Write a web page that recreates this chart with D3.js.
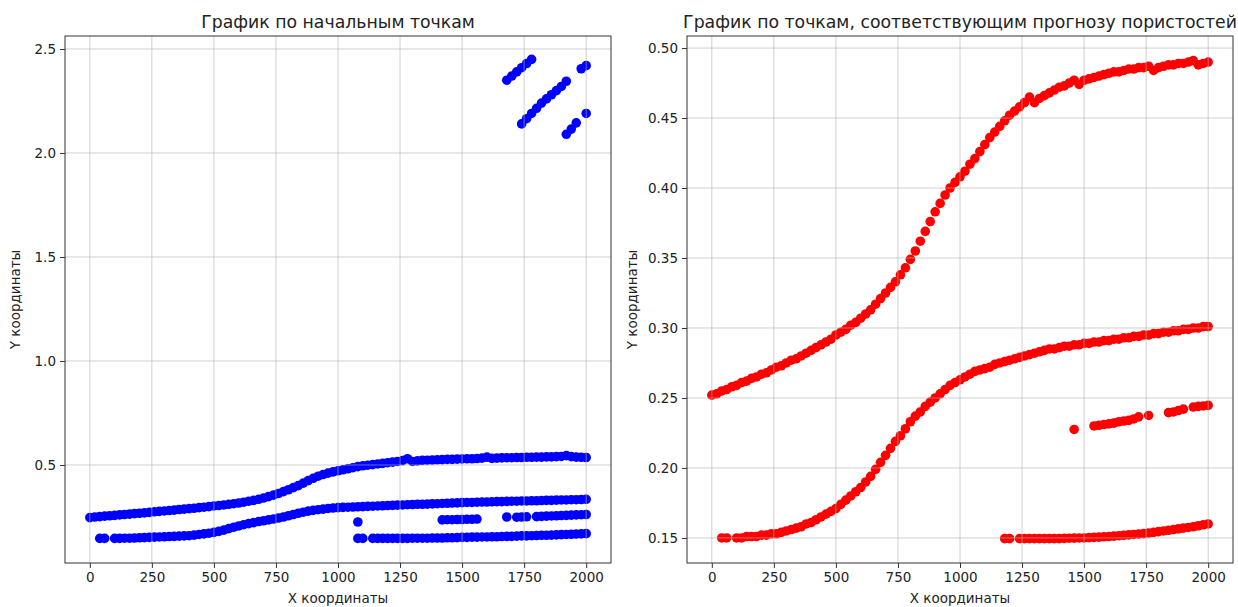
<!DOCTYPE html>
<html>
<head>
<meta charset="utf-8">
<script src="https://cdn.jsdelivr.net/npm/d3@7"></script>
<style>
  body { margin: 0; background: #fff; }
  svg text { font-family: "DejaVu Sans", sans-serif; fill: #222; }
</style>
</head>
<body>
<div id="chart"></div>
<script>
// x positions shared by the dense series (step of the sampling)
const xCoords = [
  0, 20, 40, 60, 80, 100, 120, 140, 160, 180,
  200, 220, 240, 260, 280, 300, 320, 340, 360, 380,
  400, 420, 440, 460, 480, 500, 520, 540, 560, 580,
  600, 620, 640, 660, 680, 700, 720, 740, 760, 780,
  800, 820, 840, 860, 880, 900, 920, 940, 960, 980,
  1000, 1020, 1040, 1060, 1080, 1100, 1120, 1140, 1160, 1180,
  1200, 1220, 1240, 1260, 1280, 1300, 1320, 1340, 1360, 1380,
  1400, 1420, 1440, 1460, 1480, 1500, 1520, 1540, 1560, 1580,
  1600, 1620, 1640, 1660, 1680, 1700, 1720, 1740, 1760, 1780,
  1800, 1820, 1840, 1860, 1880, 1900, 1920, 1940, 1960, 1980,
  2000
];

// ---- left chart: initial points ----
const leftUpper = [
  .247, .250, .252, .254, .256, .258, .260, .262, .264, .266,
  .268, .270, .272, .275, .277, .279, .281, .283, .286, .288,
  .290, .292, .295, .297, .300, .303, .305, .308, .311, .314,
  .317, .321, .326, .330, .335, .341, .348, .355, .363, .372,
  .381, .391, .401, .413, .425, .436, .446, .454, .461, .467,
  .472, .477, .482, .487, .492, .496, .499, .502, .505, .508,
  .511, .514, .517, .521, .530, .517, .520, .522, .523, .524,
  .525, .526, .527, .527, .528, .529, .530, .530, .531, .533,
  .538, .532, .533, .534, .535, .535, .536, .536, .537, .537,
  .538, .538, .539, .539, .540, .541, .545, .540, .538, .537,
  .536
];
const leftLower = [
  null, null, .147, .147, null, .147, .147, .148, .148, .149,
  .150, .151, .152, .153, .154, .155, .156, .157, .158, .159,
  .160, .163, .166, .169, .172, .176, .181, .187, .194, .201,
  .207, .213, .218, .223, .228, .232, .236, .240, .245, .250,
  .256, .262, .268, .273, .278, .282, .285, .288, .291, .293,
  .295, .296, .297, .298, .299, .300, .301, .302, .303, .304,
  .305, .306, .307, .308, .309, .310, .311, .311, .312, .313,
  .314, .315, .316, .317, .318, .319, .320, .320, .321, .322,
  .322, .323, .324, .324, .325, .326, .326, .327, .327, .328,
  .328, .329, .330, .330, .331, .332, .332, .333, .333, .334,
  .335
];
const leftMiddle = [
  [1080, .226], [1420, .236], [1440, .237], [1460, .237], [1480, .238], [1500, .238],
  [1520, .239], [1540, .239], [1560, .240], [1680, .250], [1720, .249], [1740, .250],
  [1760, .251], [1800, .252], [1820, .253], [1840, .254], [1860, .255], [1880, .256],
  [1900, .257], [1920, .258], [1940, .259], [1960, .260], [1980, .261], [2000, .262]
];
const leftBottom = [
  [1080, .147], [1100, .147], [1140, .147], [1160, .147], [1180, .147], [1200, .147],
  [1220, .147], [1240, .147], [1260, .147], [1280, .147], [1300, .148], [1320, .148],
  [1340, .148], [1360, .148], [1380, .149], [1400, .149], [1420, .149], [1440, .150],
  [1460, .150], [1480, .151], [1500, .152], [1520, .152], [1540, .153], [1560, .153],
  [1580, .154], [1600, .154], [1620, .155], [1640, .155], [1660, .156], [1680, .157],
  [1700, .157], [1720, .158], [1740, .159], [1760, .159], [1780, .160], [1800, .161],
  [1820, .162], [1840, .162], [1860, .163], [1880, .164], [1900, .165], [1920, .166],
  [1940, .167], [1960, .168], [1980, .169], [2000, .170]
];
// outliers in the upper right corner
const leftOutliers = [
  [1680, 2.35], [1700, 2.37], [1720, 2.39], [1740, 2.41], [1760, 2.43], [1780, 2.45],
  [1740, 2.14], [1760, 2.165], [1780, 2.19], [1800, 2.215], [1820, 2.24], [1840, 2.26],
  [1860, 2.28], [1880, 2.30], [1900, 2.32], [1920, 2.345],
  [1920, 2.09], [1940, 2.115], [1960, 2.145], [2000, 2.19],
  [1980, 2.405], [2000, 2.42]
];

// ---- right chart: points matching the porosity forecast ----
const rightUpper = [
  .252, .253, .255, .256, .258, .259, .261, .262, .264, .265,
  .267, .268, .270, .272, .273, .275, .277, .278, .280, .282,
  .284, .286, .288, .290, .292, .295, .297, .299, .302, .304,
  .307, .310, .313, .317, .321, .325, .329, .333, .338, .343,
  .349, .355, .362, .369, .376, .383, .389, .395, .400, .404,
  .408, .412, .417, .421, .426, .431, .436, .440, .444, .448,
  .452, .455, .458, .461, .465, .461, .464, .466, .468, .470,
  .472, .473, .475, .477, .474, .477, .478, .479, .480, .481,
  .482, .483, .483, .484, .485, .485, .486, .486, .487, .484,
  .486, .487, .488, .488, .489, .489, .490, .491, .488, .489,
  .490
];
const rightLower = [
  null, null, .150, .150, null, .150, .150, .151, .151, .151,
  .152, .152, .153, .153, .154, .155, .156, .157, .158, .160,
  .161, .163, .165, .167, .169, .171, .174, .177, .180, .183,
  .186, .190, .194, .199, .204, .209, .214, .219, .223, .228,
  .233, .237, .240, .244, .247, .250, .253, .256, .259, .261,
  .263, .265, .267, .269, .270, .271, .272, .274, .275, .276,
  .277, .278, .279, .280, .281, .282, .283, .284, .285, .285,
  .286, .287, .287, .288, .288, .289, .289, .290, .290, .291,
  .291, .292, .292, .293, .293, .294, .294, .295, .295, .296,
  .296, .297, .297, .298, .298, .299, .299, .300, .300, .301,
  .301
];
const rightMiddle = [
  [1460, .2275], [1540, .230], [1560, .2305], [1580, .231], [1600, .2315], [1620, .232],
  [1640, .233], [1660, .2335], [1680, .234], [1700, .235], [1720, .2365], [1760, .2375],
  [1840, .2395], [1860, .240], [1880, .241], [1900, .242], [1940, .2435], [1960, .244],
  [1980, .2443], [2000, .2447]
];
const rightBottom = [
  [1180, .1495], [1200, .1495], [1240, .1495], [1260, .1495], [1280, .1495], [1300, .1495],
  [1320, .1495], [1340, .1495], [1360, .1495], [1380, .1495], [1400, .1495], [1420, .1497],
  [1440, .1498], [1460, .1499], [1480, .150], [1500, .150], [1520, .1502], [1540, .1504],
  [1560, .1506], [1580, .1508], [1600, .151], [1620, .1513], [1640, .1516], [1660, .1519],
  [1680, .1522], [1700, .1525], [1720, .1528], [1740, .1531], [1760, .1535], [1780, .154],
  [1800, .1545], [1820, .155], [1840, .1555], [1860, .156], [1880, .1565], [1900, .157],
  [1920, .1575], [1940, .158], [1960, .1587], [1980, .1594], [2000, .160]
];

// tick labels
const xTicks = [0, 250, 500, 750, 1000, 1250, 1500, 1750, 2000];
const leftYTicks = [0.5, 1.0, 1.5, 2.0, 2.5];
const rightYTicks = [0.15, 0.20, 0.25, 0.30, 0.35, 0.40, 0.45, 0.50];

const width = 1238, height = 607;
const plotTop = 36, plotBottom = 563;

const svg = d3.select('#chart')
  .append('svg')
  .attr('width', width)
  .attr('height', height);

// turn a y array aligned with xCoords into points, skipping gaps
function alignPoints(ys) {
  return ys.map((v, i) => [xCoords[i], v]).filter(d => d[1] !== null);
}

function drawPanel(cfg) {
  const x = d3.scaleLinear().domain([-100, 2100]).range([cfg.left, cfg.right]);
  const y = d3.scaleLinear().domain(cfg.yDomain).range([plotBottom, plotTop]);
  const g = svg.append('g');

  // points
  g.append('g')
    .selectAll('circle')
    .data(cfg.points)
    .enter().append('circle')
    .attr('cx', d => x(d[0]))
    .attr('cy', d => y(d[1]))
    .attr('r', 4.8)
    .attr('fill', cfg.color);

  // grid (drawn over the points, as in the original)
  const grid = g.append('g')
    .attr('stroke', '#b0b0b0')
    .attr('stroke-opacity', 0.6)
    .attr('stroke-width', 1);
  grid.selectAll('.vx').data(xTicks).enter().append('line')
    .attr('x1', d => x(d)).attr('x2', d => x(d))
    .attr('y1', plotTop).attr('y2', plotBottom);
  grid.selectAll('.hy').data(cfg.yTicks).enter().append('line')
    .attr('x1', cfg.left).attr('x2', cfg.right)
    .attr('y1', d => y(d)).attr('y2', d => y(d));

  // axes
  const xAxis = g.append('g')
    .attr('transform', `translate(0,${plotBottom})`)
    .call(d3.axisBottom(x).tickValues(xTicks).tickSize(5).tickPadding(4).tickFormat(d3.format('d')));
  const yAxis = g.append('g')
    .attr('transform', `translate(${cfg.left},0)`)
    .call(d3.axisLeft(y).tickValues(cfg.yTicks).tickSize(5).tickPadding(4).tickFormat(d3.format(cfg.yFormat)));
  [xAxis, yAxis].forEach(a => {
    a.select('.domain').remove();
    a.selectAll('line').attr('stroke', '#333');
    a.selectAll('text').attr('font-size', 13.5).attr('font-family', '"DejaVu Sans", sans-serif').attr('fill', '#222');
  });

  // frame
  g.append('rect')
    .attr('x', cfg.left).attr('y', plotTop)
    .attr('width', cfg.right - cfg.left).attr('height', plotBottom - plotTop)
    .attr('fill', 'none').attr('stroke', '#333').attr('stroke-width', 1);

  // title and labels
  const mid = (cfg.left + cfg.right) / 2;
  g.append('text')
    .attr('x', mid).attr('y', 28)
    .attr('text-anchor', 'middle').attr('font-size', 17.3)
    .text(cfg.title);
  g.append('text')
    .attr('x', mid).attr('y', 603)
    .attr('text-anchor', 'middle').attr('font-size', 13.5)
    .text('X координаты');
  g.append('text')
    .attr('transform', `translate(${cfg.yLabelX},${(plotTop + plotBottom) / 2}) rotate(-90)`)
    .attr('text-anchor', 'middle').attr('font-size', 13.5)
    .text('Y координаты');
}

drawPanel({
  left: 65, right: 611,
  yDomain: [0.0288, 2.5625],
  yTicks: leftYTicks, yFormat: '.1f',
  color: '#0000ff',
  title: 'График по начальным точкам',
  yLabelX: 20,
  points: [].concat(alignPoints(leftUpper), alignPoints(leftLower), leftMiddle, leftBottom, leftOutliers)
});

drawPanel({
  left: 687, right: 1233,
  yDomain: [0.1321, 0.5086],
  yTicks: rightYTicks, yFormat: '.2f',
  color: '#ff0000',
  title: 'График по точкам, соответствующим прогнозу пористостей',
  yLabelX: 637,
  points: [].concat(alignPoints(rightUpper), alignPoints(rightLower), rightMiddle, rightBottom)
});
</script>
</body>
</html>
